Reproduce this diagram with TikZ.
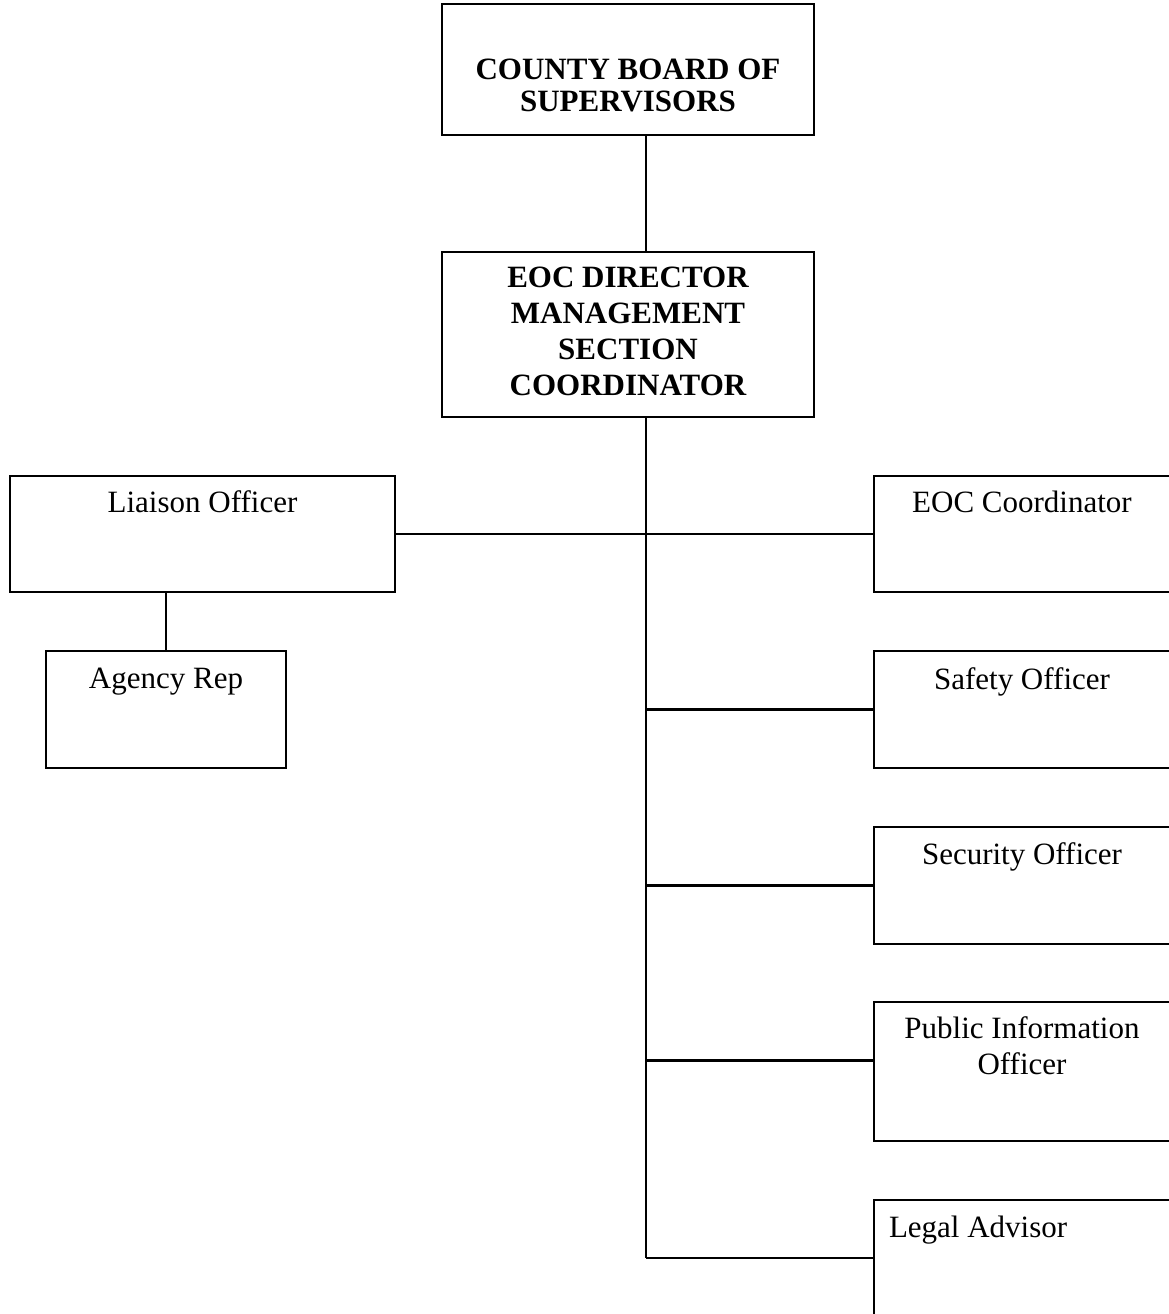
\documentclass[tikz,border=0pt]{standalone}
\usepackage{fontspec}
\setmainfont{Liberation Serif}
\newcommand\orgtext[4]{\parbox[t][#2pt][t]{#1pt}{\centering\rule{0pt}{#3pt}#4}}
\newcommand\orgtextl[4]{\parbox[t][#2pt][t]{#1pt}{\raggedright\hspace*{15pt}\rule{0pt}{#3pt}#4}}
\begin{document}
\begin{tikzpicture}[x=1pt,y=-1pt,
  orgbox/.style={draw, line width=2.7pt, inner sep=0pt, outer sep=0pt, anchor=north west,
    font=\fontsize{31}{35}\selectfont},
  topbox/.style={orgbox, font=\fontsize{31}{35}\selectfont\bfseries},
  link/.style={line width=2.7pt}]
\useasboundingbox (0,0) rectangle (1169,1314);
\fill[white] (0,0) rectangle (1169,1314);

\node[topbox] (board) at (442,4) {\orgtext{372}{131}{76}{COUNTY BOARD OF\\[-3pt]SUPERVISORS}};
\node[topbox] (director) at (442,252) {\orgtext{372}{165}{35}{EOC DIRECTOR\\[1pt]MANAGEMENT\\[1pt]SECTION\\[1pt]COORDINATOR}};

\node[orgbox] (liaison) at (10,476) {\orgtext{385}{116}{36}{Liaison Officer}};
\node[orgbox] (agency) at (46,651) {\orgtext{240}{117}{37}{Agency Rep}};

\node[orgbox] (eoccoord) at (874,476) {\orgtext{296}{116}{36}{EOC Coordinator}};
\node[orgbox] (safety) at (874,651) {\orgtext{296}{117}{38}{Safety Officer}};
\node[orgbox] (security) at (874,827) {\orgtext{296}{117}{37}{Security Officer}};
\node[orgbox] (pio) at (874,1002) {\orgtext{296}{139}{36}{Public Information\\[1pt]Officer}};
\node[orgbox] (legal) at (874,1200) {\orgtextl{296}{116}{37}{Legal Advisor}};

\coordinate (tx) at (646,0);
\draw[link] (tx |- board.south) -- (tx |- director.north);
\draw[link] (tx |- director.south) -- (tx |- legal.west);
\draw[link] (liaison.east) -- (eoccoord.west);
\draw[link] (agency.north) -- (agency.north |- liaison.south);
\draw[link] (tx |- safety.west) -- (safety.west);
\draw[link] (tx |- security.west) -- (security.west);
\draw[link] ([yshift=11pt]pio.west -| tx) -- ([yshift=11pt]pio.west);
\draw[link] (tx |- legal.west) -- (legal.west);
\end{tikzpicture}
\end{document}
